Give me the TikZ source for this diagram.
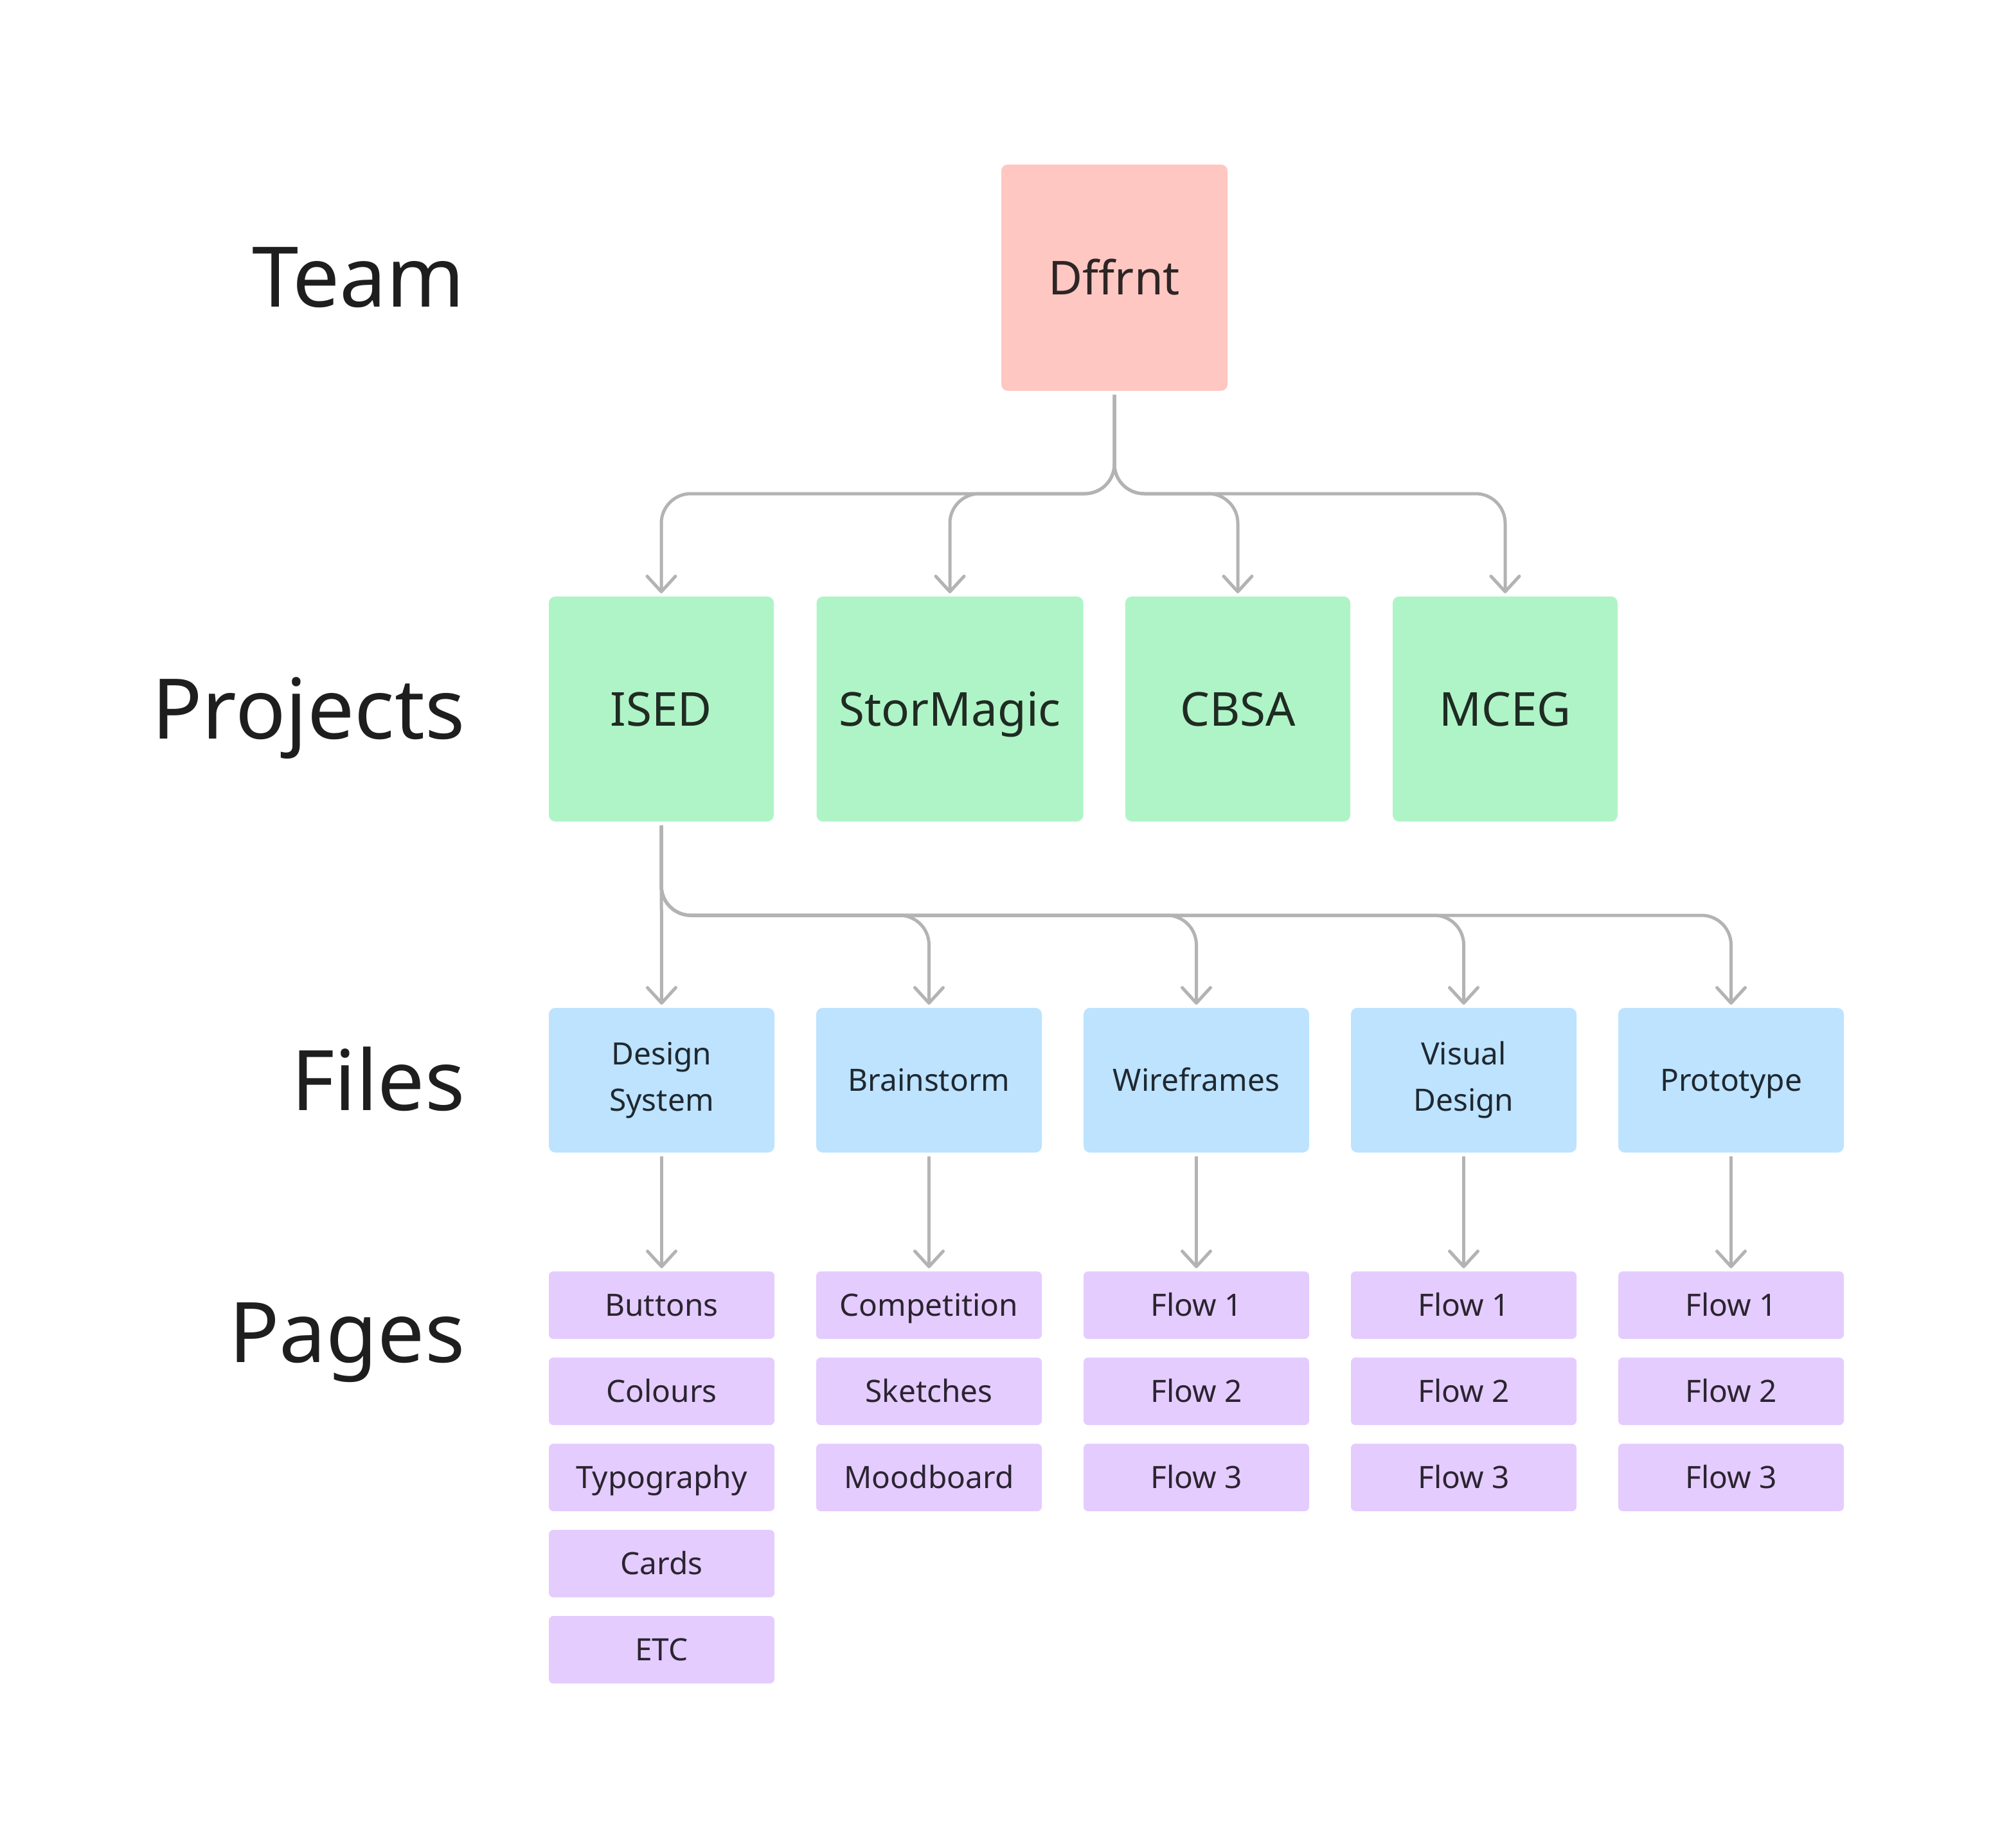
\documentclass[tikz,border=0pt]{standalone}
\usepackage{fontspec}
\setmainfont{Noto Sans}
\usepackage{tikz}
\usetikzlibrary{arrows.meta,positioning}

\definecolor{pinkfill}{HTML}{FFC7C2}
\definecolor{greenfill}{HTML}{AFF4C6}
\definecolor{bluefill}{HTML}{BDE3FF}
\definecolor{violetfill}{HTML}{E4CCFF}
\definecolor{linegray}{HTML}{B3B3B3}
\definecolor{inkdark}{HTML}{1E1E1E}
\definecolor{pinkink}{HTML}{2E2525}
\definecolor{greenink}{HTML}{1F2B23}
\definecolor{blueink}{HTML}{1F2830}
\definecolor{violetink}{HTML}{2B2430}

\begin{document}
\begin{tikzpicture}
\tikzstyle{rowlabel} = [anchor=base east, inner sep=0pt, text=inkdark, font=\fontsize{37}{44}\selectfont]
\tikzstyle{box} = [rectangle, rounded corners=0.1cm, inner sep=0pt, outer sep=0pt, align=center]
\tikzstyle{bigline} = [text height=14.8pt, text depth=0pt]
\tikzstyle{smallline} = [text height=9.7pt, text depth=0pt]
\tikzstyle{teambox} = [box, bigline, fill=pinkfill, text=pinkink, minimum width=3.52cm, minimum height=3.52cm, font=\fontsize{20.7}{25}\selectfont]
\tikzstyle{projbox} = [box, bigline, fill=greenfill, text=greenink, minimum width=3.5cm, minimum height=3.5cm, font=\fontsize{20.7}{25}\selectfont]
\tikzstyle{filebox} = [box, fill=bluefill, text=blueink, minimum width=3.51cm, minimum height=2.25cm, font=\fontsize{13.6}{20.5}\selectfont]
\tikzstyle{pagebox} = [box, smallline, fill=violetfill, text=violetink, rounded corners=0.07cm, minimum width=3.51cm, minimum height=1.05cm, font=\fontsize{13.6}{16}\selectfont]
\tikzstyle{link} = [draw=linegray, line width=0.05cm, rounded corners=0.46cm, shorten <=0.06cm, shorten >=0.05cm, -{Straight Barb[length=0.24cm,width=0.44cm,round]}]

\useasboundingbox (0,0) rectangle (31.26,-28.75);

% levels on the left
\node[rowlabel] (team) at (7.24,-4.77) {Team};
\node[rowlabel] (projects) at (7.24,-11.49) {Projects};
\node[rowlabel] (files) at (7.24,-17.27) {Files};
\node[rowlabel] (pages) at (7.24,-21.19) {Pages};

\node[teambox] (dffrnt) at (17.34,-4.32) {Dffrnt};

\node[projbox] (ised) at (10.29,-11.03) {ISED};
\node[projbox, minimum width=4.15cm] (stormagic) at (14.78,-11.03) {StorMagic};
\node[projbox] (cbsa) at (19.26,-11.03) {CBSA};
\node[projbox] (mceg) at (23.42,-11.03) {MCEG};

\node[filebox] (dsys) at (10.295,-16.805) {Design\\System};
\node[filebox, smallline] (brain) at (14.455,-16.805) {Brainstorm};
\node[filebox, smallline] (wire) at (18.615,-16.805) {Wireframes};
\node[filebox] (visual) at (22.775,-16.805) {Visual\\Design};
\node[filebox, smallline] (proto) at (26.935,-16.805) {Prototype};

% pages, stacked under each file
\node[pagebox] (buttons) at (10.295,-20.305) {Buttons};
\node[pagebox, below=0.29cm of buttons] (colours) {Colours};
\node[pagebox, below=0.29cm of colours] (typo) {Typography};
\node[pagebox, below=0.29cm of typo] (cards) {Cards};
\node[pagebox, below=0.29cm of cards] (etc) {ETC};

\node[pagebox] (compet) at (14.455,-20.305) {Competition};
\node[pagebox, below=0.29cm of compet] (sketch) {Sketches};
\node[pagebox, below=0.29cm of sketch] (mood) {Moodboard};

\node[pagebox] (wfa) at (18.615,-20.305) {Flow 1};
\node[pagebox, below=0.29cm of wfa] (wfb) {Flow 2};
\node[pagebox, below=0.29cm of wfb] (wfc) {Flow 3};

\node[pagebox] (vda) at (22.775,-20.305) {Flow 1};
\node[pagebox, below=0.29cm of vda] (vdb) {Flow 2};
\node[pagebox, below=0.29cm of vdb] (vdc) {Flow 3};

\node[pagebox] (pra) at (26.935,-20.305) {Flow 1};
\node[pagebox, below=0.29cm of pra] (prb) {Flow 2};
\node[pagebox, below=0.29cm of prb] (prc) {Flow 3};

% team -> projects
\foreach \p in {ised,stormagic,cbsa,mceg}
  \draw[link] (dffrnt.south) -- ++(0,-1.6) -| (\p.north);

% ISED -> files
\draw[link] (ised.south) -- (dsys.north);
\foreach \f in {brain,wire,visual,proto}
  \draw[link] (ised.south) -- ++(0,-1.46) -| (\f.north);

% files -> first page
\draw[link] (dsys.south) -- (buttons.north);
\draw[link] (brain.south) -- (compet.north);
\draw[link] (wire.south) -- (wfa.north);
\draw[link] (visual.south) -- (vda.north);
\draw[link] (proto.south) -- (pra.north);
\end{tikzpicture}
\end{document}
